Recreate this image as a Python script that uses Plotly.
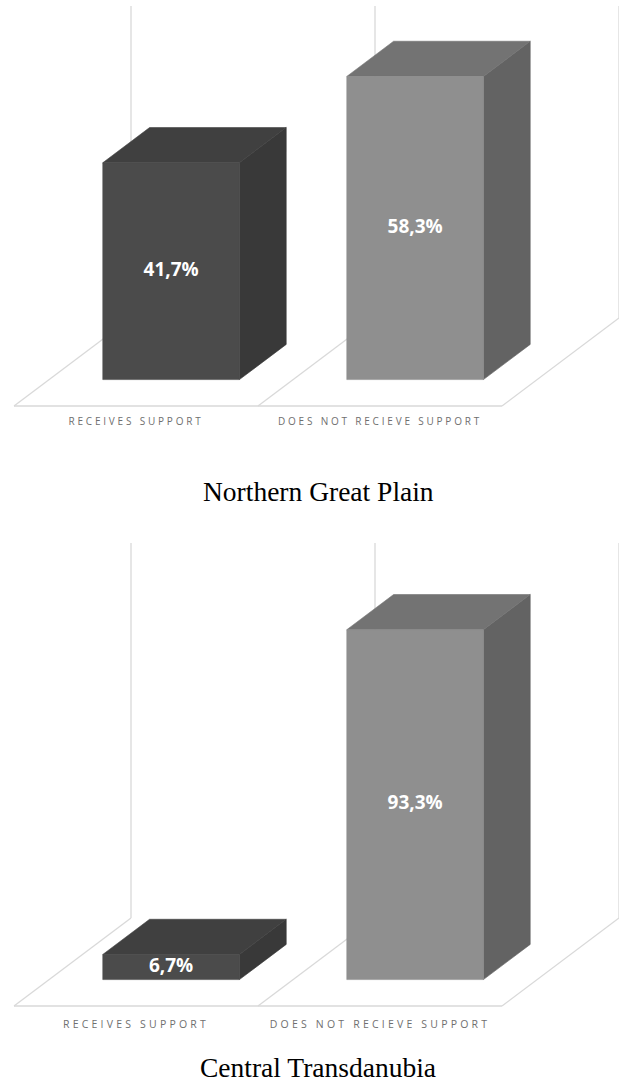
import plotly.graph_objects as go

# ---- data -------------------------------------------------------------
categories = ["RECEIVES SUPPORT", "DOES NOT RECIEVE SUPPORT"]
regions = ["Northern Great Plain", "Central Transdanubia"]
north_values = [41.7, 58.3]
central_values = [6.7, 93.3]
axis_max = [60, 100]

# ---- styling / geometry ----------------------------------------------
W, H = 619, 1082
FLOOR_LEFT = 14          # px of the front-left floor corner
CAT_W = 244              # px per category slot
DEPTH_X, DEPTH_Y = 117, 88   # oblique shift of the floor, front -> back (px)
BAR_D0, BAR_D1 = 0.3, 0.7    # bar depth span as fraction of floor depth
BAR_HALF = 0.28              # half bar width in category units
GRID = "#d9d9d9"
FACE = [
    dict(front="#4b4b4b", top="#404040", side="#393939"),
    dict(front="#8f8f8f", top="#737373", side="#636363"),
]
panels = [
    dict(values=north_values, vmax=axis_max[0], top=0, bottom=414, floor=406,
         scale=5.2, title_y=491, tick_size=10, spacing=2.8),
    dict(values=central_values, vmax=axis_max[1], top=500, bottom=1016, floor=1006,
         scale=3.75, title_y=1067, tick_size=10.5, spacing=3.2),
]

fig = go.Figure()


def project(p, u, v, d):
    """Oblique projection of (category u, value v, depth d) into axis units."""
    return u + d * DEPTH_X / CAT_W, v + d * DEPTH_Y / p["scale"]


def poly(p, pts, color, xa, ya):
    xs, ys = zip(*[project(p, *q) for q in pts])
    fig.add_trace(go.Scatter(
        x=list(xs) + [xs[0]], y=list(ys) + [ys[0]], mode="lines",
        fill="toself", fillcolor=color, line=dict(color=color, width=0.6),
        hoverinfo="skip", showlegend=False, xaxis=xa, yaxis=ya))


def line(p, pts, xa, ya):
    xs, ys = zip(*[project(p, *q) for q in pts])
    fig.add_trace(go.Scatter(
        x=xs, y=ys, mode="lines", line=dict(color=GRID, width=1.3),
        hoverinfo="skip", showlegend=False, xaxis=xa, yaxis=ya))


def fmt(v):
    return f"{v:.1f}".replace(".", ",") + "%"


for i, p in enumerate(panels):
    xa = "x" if i == 0 else "x2"
    ya = "y" if i == 0 else "y2"
    n = len(categories)

    # floor and back-wall guide lines
    line(p, [(0, 0, 0), (n, 0, 0)], xa, ya)
    for k in range(n + 1):
        line(p, [(k, 0, 0), (k, 0, 1)], xa, ya)
        line(p, [(k, 0, 1), (k, p["vmax"], 1)], xa, ya)

    # 3-D bars
    for k, v in enumerate(p["values"]):
        c = FACE[k]
        u0, u1 = k + 0.5 - BAR_HALF, k + 0.5 + BAR_HALF
        poly(p, [(u1, 0, BAR_D0), (u1, 0, BAR_D1), (u1, v, BAR_D1), (u1, v, BAR_D0)],
             c["side"], xa, ya)
        poly(p, [(u0, v, BAR_D0), (u1, v, BAR_D0), (u1, v, BAR_D1), (u0, v, BAR_D1)],
             c["top"], xa, ya)
        poly(p, [(u0, 0, BAR_D0), (u1, 0, BAR_D0), (u1, v, BAR_D0), (u0, v, BAR_D0)],
             c["front"], xa, ya)
        tx, ty = project(p, k + 0.5, v / 2, BAR_D0)
        fig.add_trace(go.Scatter(
            x=[tx], y=[ty], mode="text", text=[fmt(v)],
            textfont=dict(family="Open Sans", size=19, color="white", weight="bold"),
            hoverinfo="skip", showlegend=False, xaxis=xa, yaxis=ya))

    x_range = [(0 - FLOOR_LEFT) / CAT_W, (W - FLOOR_LEFT) / CAT_W]
    y_range = [(p["floor"] - p["bottom"]) / p["scale"], (p["floor"] - p["top"]) / p["scale"]]
    dom = [1 - p["bottom"] / H, 1 - p["top"] / H]
    xkey = "xaxis" if i == 0 else "xaxis2"
    ykey = "yaxis" if i == 0 else "yaxis2"
    fig.update_layout(**{
        xkey: dict(domain=[0, 1], range=x_range, anchor=ya,
                   tickvals=[k + 0.5 for k in range(n)], ticktext=categories,
                   tickfont=dict(family="Open Sans", size=p["tick_size"], color="#6f6f6f"),
                   showgrid=False, zeroline=False, showline=False, ticks="",
                   fixedrange=True),
        ykey: dict(domain=dom, range=y_range, anchor=xa, visible=False,
                   showgrid=False, zeroline=False, fixedrange=True),
    })
    fig.add_annotation(
        text=regions[i], xref="paper", yref="paper", x=318 / W, y=1 - p["title_y"] / H,
        xanchor="center", yanchor="middle", showarrow=False,
        font=dict(family="Liberation Serif", size=27.5, color="black"))

fig.update_layout(
    width=W, height=H, margin=dict(l=0, r=0, t=0, b=0),
    paper_bgcolor="white", plot_bgcolor="white", showlegend=False,
)

spacing_js = (
    "document.querySelectorAll('.xtick text').forEach(function(e){e.style.letterSpacing='2.8px';});"
    "document.querySelectorAll('.x2tick text').forEach(function(e){e.style.letterSpacing='3.2px';});"
)
fig.write_html("out.html", post_script=spacing_js, config={"displayModeBar": False})
